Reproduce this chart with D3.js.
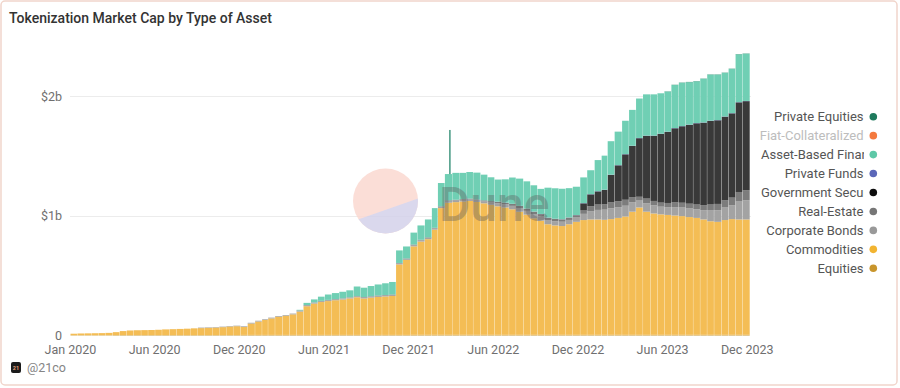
<!DOCTYPE html>
<html>
<head>
<meta charset="utf-8">
<script src="https://cdn.jsdelivr.net/npm/d3@7"></script>
<style>
  body { margin: 0; background: #fff; }
  svg { display: block; font-family: Roboto, "Open Sans", sans-serif; }
</style>
</head>
<body>
<svg id="chart" width="900" height="388"></svg>
<script>
// half-month periods, values in $M
const dates = [
  '2020-01-01','2020-01-16','2020-02-01','2020-02-16','2020-03-01','2020-03-16','2020-04-01','2020-04-16','2020-05-01','2020-05-16','2020-06-01','2020-06-16',
  '2020-07-01','2020-07-16','2020-08-01','2020-08-16','2020-09-01','2020-09-16','2020-10-01','2020-10-16','2020-11-01','2020-11-16','2020-12-01','2020-12-16',
  '2021-01-01','2021-01-16','2021-02-01','2021-02-16','2021-03-01','2021-03-16','2021-04-01','2021-04-16','2021-05-01','2021-05-16','2021-06-01','2021-06-16',
  '2021-07-01','2021-07-16','2021-08-01','2021-08-16','2021-09-01','2021-09-16','2021-10-01','2021-10-16','2021-11-01','2021-11-16','2021-12-01','2021-12-16',
  '2022-01-01','2022-01-16','2022-02-01','2022-02-16','2022-03-01','2022-03-16','2022-04-01','2022-04-16','2022-05-01','2022-05-16','2022-06-01','2022-06-16',
  '2022-07-01','2022-07-16','2022-08-01','2022-08-16','2022-09-01','2022-09-16','2022-10-01','2022-10-16','2022-11-01','2022-11-16','2022-12-01','2022-12-16',
  '2023-01-01','2023-01-16','2023-02-01','2023-02-16','2023-03-01','2023-03-16','2023-04-01','2023-04-16','2023-05-01','2023-05-16','2023-06-01','2023-06-16',
  '2023-07-01','2023-07-16','2023-08-01','2023-08-16','2023-09-01','2023-09-16','2023-10-01','2023-10-16','2023-11-01','2023-11-16','2023-12-01','2023-12-16'
]
const endDate = '2024-01-01'

const equities = [
  3,3,3,3,3,3,4,4,4,4,4,4,
  4,4,4,4,4,4,4,4,4,4,4,4,
  5,5,5,5,5,5,5,5,5,5,5,5,
  5,5,5,5,5,5,5,5,5,5,5,5,
  6,6,6,6,6,6,6,6,6,6,6,6,
  6,6,6,6,6,6,6,6,6,6,6,6,
  6,6,6,6,6,6,6,6,6,6,6,6,
  6,6,6,6,6,6,6,6,6,6,6,6
]
const commodities = [
  12,14,15,16,17,19,24,33,38,40,41,42,
  44,47,49,51,53,56,58,60,62,66,71,74,
  66,95,112,125,138,152,160,172,195,240,262,275,
  283,290,296,305,315,305,312,318,322,326,590,628,
  740,780,800,880,1060,1105,1110,1115,1120,1112,1100,1088,
  1075,1065,1050,1030,1005,975,955,925,915,910,925,945,
  960,965,965,962,968,978,990,1030,1065,1030,1015,1008,
  1003,998,993,985,978,965,950,945,960,968,965,965
]
const corporateBonds = [
  0,0,0,0,0,0,0,0,0,0,0,0,
  0,0,0,0,0,0,3,3,3,3,3,3,
  4,4,4,4,4,4,4,4,7,7,7,7,
  7,7,7,7,7,8,8,8,8,8,8,8,
  10,10,10,10,10,14,14,14,14,14,17,20,
  25,26,29,31,32,35,35,35,35,36,36,36,
  52,70,80,85,90,90,90,78,58,70,68,64,
  65,70,72,72,72,78,90,97,105,115,150,160
]
const realEstate = [
  0,0,0,0,0,0,0,0,0,0,0,0,
  0,0,0,0,0,0,1,1,1,1,1,1,
  2,2,2,2,2,2,2,2,3,3,3,3,
  3,3,3,3,3,4,4,4,4,4,4,4,
  5,5,5,5,5,6,6,6,6,6,8,10,
  13,14,16,17,18,20,20,20,20,20,20,20,
  28,40,45,45,50,50,50,42,32,40,37,34,
  35,40,40,40,40,42,50,53,60,65,80,85
]
const governmentSecurities = [
  0,0,0,0,0,0,0,0,0,0,0,0,
  0,0,0,0,0,0,0,0,0,0,0,0,
  0,0,0,0,0,0,0,0,0,0,0,0,
  0,0,0,0,0,0,0,0,0,0,0,0,
  0,0,0,0,0,0,0,0,0,0,0,0,
  0,0,0,0,0,0,0,0,0,0,0,0,
  60,100,110,120,230,300,380,430,490,525,545,575,
  595,620,640,660,680,690,700,700,700,705,750,745
]
const privateFunds = [
  0,0,0,0,0,0,0,0,0,0,0,0,
  0,0,0,0,0,0,0,0,0,0,0,0,
  0,0,0,0,0,0,0,0,0,0,0,0,
  0,0,0,0,0,0,0,0,0,0,0,0,
  0,0,0,0,0,0,0,0,0,0,0,0,
  1,1,1,1,1,1,1,1,1,1,1,1,
  2,2,2,2,2,2,2,2,2,2,2,2,
  2,2,2,2,2,2,2,2,2,2,2,2
]
const assetBasedFinance = [
  0,0,0,0,0,0,0,0,0,0,0,0,
  0,0,0,0,0,0,0,0,0,0,0,0,
  0,0,0,0,0,0,0,0,5,18,25,35,
  45,50,55,58,80,78,85,92,98,105,105,100,
  100,120,150,165,195,220,225,220,222,225,215,200,
  185,195,220,228,228,220,210,250,255,255,245,237,
  215,200,260,285,280,280,279,300,330,345,345,338,
  335,360,362,355,349,365,385,380,365,370,400,395
]
const privateEquities = [
  0,0,0,0,0,0,0,0,0,0,0,0,
  0,0,0,0,0,0,0,0,0,0,0,0,
  0,0,0,0,0,0,0,0,0,0,0,0,
  0,0,0,0,0,0,0,0,0,0,0,0,
  0,0,0,0,0,0,0,0,0,0,0,0,
  0,0,0,0,0,0,0,0,0,0,0,0,
  0,0,0,0,0,0,0,0,0,0,0,0,
  2,2,2,2,2,2,2,2,2,2,2,2
]
// one-day spike of asset-based finance
const spikeDate = '2022-03-25'
const spikeLow = 1350
const spikeHigh = 1720

const legendNames = ['Private Equities', 'Fiat-Collateralized', 'Asset-Based Finance', 'Private Funds',
  'Government Securities', 'Real-Estate', 'Corporate Bonds', 'Commodities', 'Equities']
const legendColors = ['#1f7a5d', '#f47a3f', '#5ec8a7', '#5b67b8', '#0d0d0d', '#767676', '#999999', '#f2b431', '#c8952c']
const hiddenSeries = ['Fiat-Collateralized']

const xTickDates = ['2020-01-01','2020-06-30','2020-12-29','2021-06-29','2021-12-28','2022-06-28','2022-12-27','2023-06-27','2023-12-26']
const yTicks = [0, 1000, 2000]
const yTickLabels = ['0', '$1b', '$2b']

const keys = ['Equities', 'Commodities', 'Corporate Bonds', 'Real-Estate', 'Government Securities', 'Private Funds', 'Asset-Based Finance', 'Private Equities']
const series = {
  'Equities': equities,
  'Commodities': commodities,
  'Corporate Bonds': corporateBonds,
  'Real-Estate': realEstate,
  'Government Securities': governmentSecurities,
  'Private Funds': privateFunds,
  'Asset-Based Finance': assetBasedFinance,
  'Private Equities': privateEquities
}
const barColors = {
  'Equities': '#c8952c',
  'Commodities': '#f4bd55',
  'Corporate Bonds': '#a3a3a3',
  'Real-Estate': '#7c7c7c',
  'Government Securities': '#393939',
  'Private Funds': '#5b67b8',
  'Asset-Based Finance': '#70cfb4',
  'Private Equities': '#1f7a5d'
}

const parse = d3.utcParse('%Y-%m-%d')
const rows = dates.map((d, i) => {
  const row = { date: parse(d), next: parse(i < dates.length - 1 ? dates[i + 1] : endDate) }
  keys.forEach(k => { row[k] = series[k][i] })
  return row
})

const svg = d3.select('#chart')

// frame
svg.append('rect')
  .attr('x', 1).attr('y', 1).attr('width', 896).attr('height', 384)
  .attr('rx', 4).attr('fill', '#fff').attr('stroke', '#f1d5cb').attr('stroke-width', 1.5)

svg.append('text')
  .attr('x', 9).attr('y', 23)
  .attr('font-size', 14).attr('font-weight', 500).attr('fill', '#333')
  .text('Tokenization Market Cap by Type of Asset')

const x = d3.scaleUtc()
  .domain([parse(dates[0]), parse(endDate)])
  .range([70.5, 750])

const y = d3.scaleLinear()
  .domain([0, 2500])
  .range([335.5, 36.75])

// grid + y labels
const yAxis = svg.append('g')
yAxis.selectAll('line')
  .data(yTicks.filter(t => t > 0))
  .enter()
  .append('line')
  .attr('x1', 70).attr('x2', 751)
  .attr('y1', d => Math.round(y(d)) + 0.5).attr('y2', d => Math.round(y(d)) + 0.5)
  .attr('stroke', '#ececec')
yAxis.selectAll('text')
  .data(yTicks)
  .enter()
  .append('text')
  .attr('x', 62).attr('y', d => y(d))
  .attr('dy', '0.35em')
  .attr('text-anchor', 'end')
  .attr('font-size', 12.5).attr('fill', '#6f6f6f')
  .text((d, i) => yTickLabels[i])

// stacked bars
const stacked = d3.stack().keys(keys)(rows)
const bars = svg.append('g')
stacked.forEach(layer => {
  bars.append('g')
    .attr('fill', barColors[layer.key])
    .selectAll('rect')
    .data(layer.filter(d => d[1] - d[0] > 0))
    .enter()
    .append('rect')
    .attr('x', d => x(d.data.date))
    .attr('width', d => x(d.data.next) - x(d.data.date) - 0.3)
    .attr('y', d => y(d[1]))
    .attr('height', d => y(d[0]) - y(d[1]))
})

bars.append('rect')
  .attr('x', x(parse(spikeDate)))
  .attr('width', 1.6)
  .attr('y', y(spikeHigh))
  .attr('height', y(spikeLow) - y(spikeHigh))
  .attr('fill', '#4f9e89')

// x labels
svg.append('g')
  .selectAll('text')
  .data(xTickDates)
  .enter()
  .append('text')
  .attr('x', d => x(parse(d)))
  .attr('y', 354)
  .attr('text-anchor', 'middle')
  .attr('font-size', 12.5).attr('fill', '#6f6f6f')
  .text(d => d3.utcFormat('%b %Y')(parse(d)))

// watermark
const wm = svg.append('g').attr('opacity', 0.85)
const defs = svg.append('defs')
defs.append('clipPath').attr('id', 'wmclip')
  .append('circle').attr('cx', 385.5).attr('cy', 201).attr('r', 32.5)
wm.append('circle').attr('cx', 385.5).attr('cy', 201).attr('r', 32.5).attr('fill', '#fbd9d1')
wm.append('path')
  .attr('d', 'M345,224 L425,196 L425,240 L345,240 Z')
  .attr('clip-path', 'url(#wmclip)')
  .attr('fill', '#d4d2ea')
svg.append('text')
  .attr('x', 439).attr('y', 221)
  .attr('font-size', 48).attr('font-weight', 500)
  .attr('fill', '#5e5e5e').attr('opacity', 0.38)
  .text('Dune')

// legend
defs.append('clipPath').attr('id', 'legclip')
  .append('rect').attr('x', 760).attr('y', 100).attr('width', 104).attr('height', 190)
const legend = svg.append('g')
legendNames.forEach((name, i) => {
  const cy = 116.7 + i * 18.95
  const t = legend.append('text')
    .attr('y', cy).attr('dy', '0.35em')
    .attr('font-size', 13)
    .attr('fill', hiddenSeries.includes(name) ? '#bdbdbd' : '#555')
    .attr('clip-path', 'url(#legclip)')
    .text(name)
  const w = t.node().getComputedTextLength()
  if (w > 104) t.attr('x', 761)
  else t.attr('x', 863.5).attr('text-anchor', 'end')
  legend.append('circle')
    .attr('cx', 873.3).attr('cy', cy).attr('r', 3.8)
    .attr('fill', legendColors[i])
})

// footer
svg.append('rect')
  .attr('x', 11).attr('y', 362).attr('width', 10).attr('height', 11).attr('rx', 2)
  .attr('fill', '#1b1b1b')
svg.append('text')
  .attr('x', 16).attr('y', 370).attr('text-anchor', 'middle')
  .attr('font-size', 5.5).attr('font-weight', 700).attr('fill', '#e8a27a')
  .text('21')
svg.append('text')
  .attr('x', 27).attr('y', 372)
  .attr('font-size', 12.5).attr('fill', '#858585')
  .text('@21co')
</script>
</body>
</html>
